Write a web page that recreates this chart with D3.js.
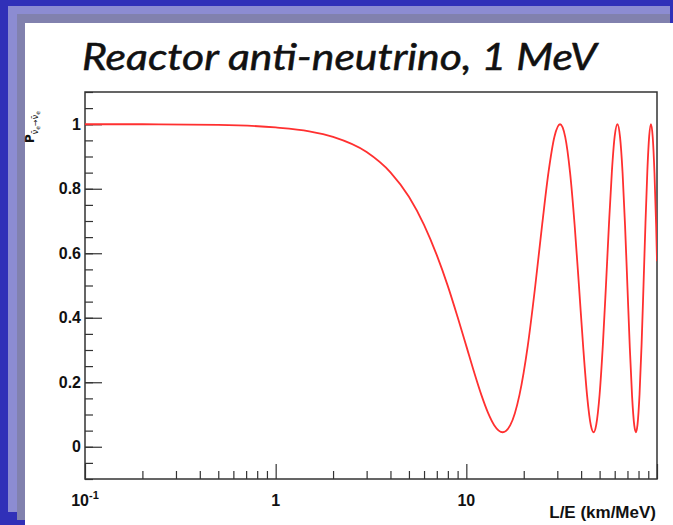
<!DOCTYPE html>
<html>
<head>
<meta charset="utf-8">
<script src="https://cdn.jsdelivr.net/npm/d3@7"></script>
<style>
  html, body { margin: 0; padding: 0; background: #3030b8; }
  svg { display: block; }
</style>
</head>
<body>
<div id="mainDiv"></div>
<script>
// L/E values (km/MeV) and survival probability
const lePoints = [
  0.1, 0.2, 0.5, 1, 1.5, 2, 3, 4, 5, 6, 7, 8, 9, 10, 11, 12, 13, 14, 15.5,
  17, 19, 21, 23, 25, 27, 29, 31, 33, 35, 37, 39, 41, 43, 45, 46.5,
  48, 50, 52, 54, 56, 58, 60, 62, 64, 66, 68, 70, 72, 74, 76, 77.5,
  79, 81, 83, 85, 87, 89, 91, 93, 95, 97, 99, 100
];
const survivalProb = [
  1.000, 1.000, 0.998, 0.990, 0.978, 0.961, 0.914, 0.851, 0.775, 0.688, 0.594, 0.498, 0.402, 0.312, 0.230, 0.160, 0.105, 0.067, 0.045,
  0.067, 0.161, 0.313, 0.500, 0.690, 0.853, 0.962, 1.000, 0.961, 0.850, 0.686, 0.496, 0.310, 0.158, 0.066, 0.045,
  0.068, 0.162, 0.315, 0.501, 0.691, 0.854, 0.963, 1.000, 0.960, 0.849, 0.685, 0.494, 0.308, 0.157, 0.066, 0.045,
  0.068, 0.163, 0.316, 0.503, 0.693, 0.855, 0.963, 1.000, 0.959, 0.848, 0.683, 0.575
];

const yTickValues = [0, 0.2, 0.4, 0.6, 0.8, 1];
const xMajorTicks = [0.1, 1, 10, 100];
const xTickLabels = [
  { value: 0.1, base: "10", exp: "-1" },
  { value: 1, base: "1", exp: "" },
  { value: 10, base: "10", exp: "" },
];

const titleText = "Reactor anti-neutrino, 1 MeV";
const xTitleText = "L/E (km/MeV)";

const chartSize = {
  width: 673,
  height: 525,
  frame: { left: 85, right: 657, top: 92, bottom: 479 },
};

const labelFont = "'Liberation Sans', Arial, Helvetica, sans-serif";

const svg = d3.select("#mainDiv")
  .append("svg")
  .attr("width", chartSize.width)
  .attr("height", chartSize.height);

// slide background bands
svg.append("rect")
  .attr("width", chartSize.width).attr("height", chartSize.height)
  .attr("fill", "#3030b8");
svg.append("rect")
  .attr("x", 8).attr("y", 6).attr("width", 662).attr("height", 506)
  .attr("fill", "#8c8cd2");
svg.append("rect")
  .attr("x", 17).attr("y", 14).attr("width", 653).attr("height", 506)
  .attr("fill", "#8181ae");
svg.append("rect")
  .attr("x", 25).attr("y", 23).attr("width", 648).attr("height", 502)
  .attr("fill", "#ffffff");

svg.append("text")
  .attr("x", 82)
  .attr("y", 70)
  .attr("font-family", "Lato, 'Open Sans', sans-serif")
  .attr("font-style", "italic")
  .attr("font-size", 36)
  .attr("fill", "#111")
  .attr("stroke", "#111")
  .attr("stroke-width", 0.5)
  .attr("textLength", 515)
  .attr("lengthAdjust", "spacingAndGlyphs")
  .text(titleText);

const f = chartSize.frame;

const x = d3.scaleLog()
  .domain([0.1, 100])
  .range([f.left, f.right]);

const y = d3.scaleLinear()
  .domain([-0.1, 1.1])
  .range([f.bottom, f.top]);

// x axis ticks (inward)
const xMinorTicks = [];
[0.1, 1, 10].forEach(d => {
  for (let k = 2; k <= 9; k++) xMinorTicks.push(d * k);
});

svg.append("g")
  .attr("transform", `translate(0,${f.bottom})`)
  .call(d3.axisBottom(x).tickValues(xMinorTicks).tickSize(-8).tickFormat(""))
  .call(g => g.select(".domain").remove())
  .call(g => g.selectAll("line").attr("stroke", "#333").attr("stroke-width", 1.2));

svg.append("g")
  .attr("transform", `translate(0,${f.bottom})`)
  .call(d3.axisBottom(x).tickValues(xMajorTicks).tickSize(-15).tickFormat(""))
  .call(g => g.select(".domain").remove())
  .call(g => g.selectAll("line").attr("stroke", "#333").attr("stroke-width", 1.2));

const xLabels = svg.append("g")
  .attr("font-family", labelFont)
  .attr("font-weight", "bold")
  .attr("font-size", 16)
  .attr("fill", "#111")
  .selectAll("text")
  .data(xTickLabels)
  .join("text")
  .attr("x", d => x(d.value))
  .attr("y", 506)
  .attr("text-anchor", "middle");
xLabels.append("tspan").text(d => d.base);
xLabels.filter(d => d.exp)
  .append("tspan")
  .attr("font-size", 11)
  .attr("dy", -7)
  .text(d => d.exp);

// y axis ticks (inward)
const yMinorTicks = d3.range(-0.1, 1.1001, 0.05);

svg.append("g")
  .attr("transform", `translate(${f.left},0)`)
  .call(d3.axisLeft(y).tickValues(yMinorTicks).tickSize(-8).tickFormat(""))
  .call(g => g.select(".domain").remove())
  .call(g => g.selectAll("line").attr("stroke", "#333").attr("stroke-width", 1.2));

svg.append("g")
  .attr("transform", `translate(${f.left},0)`)
  .call(d3.axisLeft(y).tickValues(yTickValues).tickSize(-17).tickPadding(4).tickFormat(d3.format("")))
  .call(g => g.select(".domain").remove())
  .call(g => g.selectAll("line").attr("stroke", "#333").attr("stroke-width", 1.2))
  .call(g => g.selectAll("text")
    .attr("font-family", labelFont)
    .attr("font-weight", "bold")
    .attr("font-size", 16)
    .attr("fill", "#111"));

// frame
svg.append("rect")
  .attr("x", f.left).attr("y", f.top)
  .attr("width", f.right - f.left).attr("height", f.bottom - f.top)
  .attr("fill", "none")
  .attr("stroke", "#333")
  .attr("stroke-width", 1.5);

// curve
svg.append("clipPath").attr("id", "plotClip")
  .append("rect")
  .attr("x", f.left).attr("y", f.top)
  .attr("width", f.right - f.left).attr("height", f.bottom - f.top);

const line = d3.line()
  .x((d, i) => x(lePoints[i]))
  .y(d => y(d))
  .curve(d3.curveMonotoneX);

svg.append("path")
  .datum(survivalProb)
  .attr("clip-path", "url(#plotClip)")
  .attr("fill", "none")
  .attr("stroke", "#ff3030")
  .attr("stroke-width", 1.8)
  .attr("d", line);

// axis titles
svg.append("text")
  .attr("x", 656)
  .attr("y", 518)
  .attr("text-anchor", "end")
  .attr("font-family", labelFont)
  .attr("font-weight", "bold")
  .attr("font-size", 17)
  .attr("fill", "#111")
  .text(xTitleText);

const yTitle = svg.append("text")
  .attr("transform", "translate(34,143) rotate(-90)")
  .attr("font-family", "'DejaVu Sans', sans-serif")
  .attr("font-weight", "bold")
  .attr("fill", "#111")
  .attr("font-size", 12);
yTitle.append("tspan").text("P");
const sub = yTitle.append("tspan").attr("dy", 4).attr("font-size", 8).attr("font-weight", "normal");
sub.append("tspan").text("\u03BD\u0304");
sub.append("tspan").attr("font-size", 6).attr("dy", 2).text("e");
sub.append("tspan").attr("dy", -2).text("\u2192");
sub.append("tspan").text("\u03BD\u0304");
sub.append("tspan").attr("font-size", 6).attr("dy", 2).text("e");
</script>
</body>
</html>
